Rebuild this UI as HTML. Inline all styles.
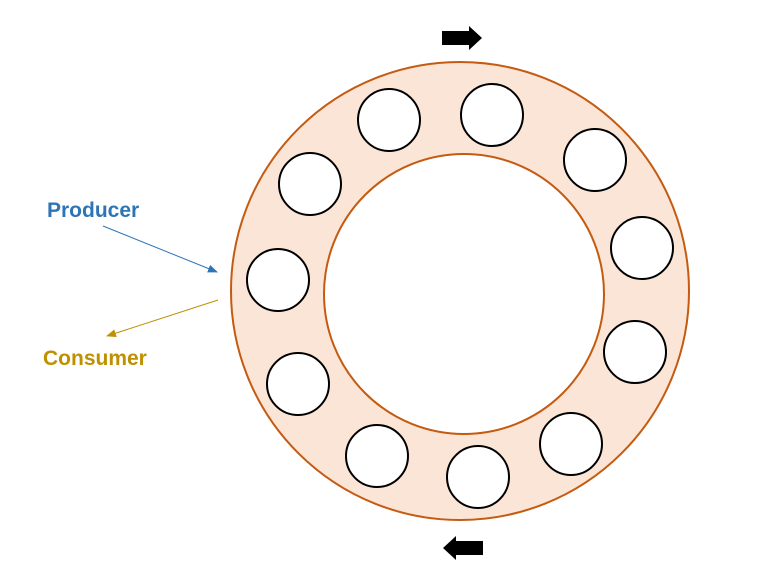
<!DOCTYPE html>
<html><head><meta charset="utf-8"><style>
html,body{margin:0;padding:0;background:#fff;width:760px;height:588px;overflow:hidden}
</style></head><body>
<svg width="760" height="588" viewBox="0 0 760 588" xmlns="http://www.w3.org/2000/svg">
<defs>
<marker id="mb" markerWidth="10" markerHeight="8" refX="9" refY="4" orient="auto" markerUnits="userSpaceOnUse"><path d="M0,0 L10,4 L0,8 z" fill="#2e75b6"/></marker>
<marker id="my" markerWidth="10" markerHeight="8" refX="9" refY="4" orient="auto" markerUnits="userSpaceOnUse"><path d="M0,0 L10,4 L0,8 z" fill="#bf9000"/></marker>
</defs>
<circle cx="460" cy="291" r="229" fill="#fbe5d6" stroke="#c55a11" stroke-width="2"/>
<circle cx="464" cy="294" r="140" fill="#fff" stroke="#c55a11" stroke-width="2"/>
<g fill="#fff" stroke="#000" stroke-width="2">
<circle cx="389" cy="120" r="31"/>
<circle cx="492" cy="115" r="31"/>
<circle cx="595" cy="160" r="31"/>
<circle cx="642" cy="248" r="31"/>
<circle cx="635" cy="352" r="31"/>
<circle cx="571" cy="444" r="31"/>
<circle cx="478" cy="477" r="31"/>
<circle cx="377" cy="456" r="31"/>
<circle cx="298" cy="384" r="31"/>
<circle cx="278" cy="280" r="31"/>
<circle cx="310" cy="184" r="31"/>
</g>
<path d="M442,31 H469 V26 L482,38 L469,50 V45 H442 z" fill="#000"/>
<path d="M483,541 H456 V536 L443,548 L456,560 V555 H483 z" fill="#000"/>
<text x="47" y="217" font-family="Liberation Sans, sans-serif" font-weight="bold" font-size="21" fill="#2e75b6">Producer</text>
<line x1="103" y1="226" x2="217" y2="272" stroke="#2e75b6" stroke-width="1" marker-end="url(#mb)"/>
<text x="43" y="365" font-family="Liberation Sans, sans-serif" font-weight="bold" font-size="21" fill="#bf9000">Consumer</text>
<line x1="218" y1="300" x2="107" y2="336" stroke="#bf9000" stroke-width="1" marker-end="url(#my)"/>
</svg>
</body></html>
